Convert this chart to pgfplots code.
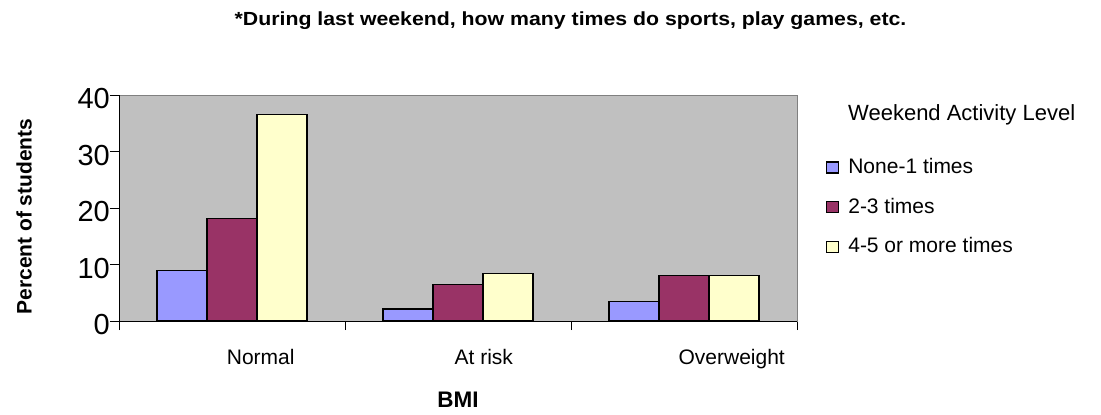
\documentclass[border=0pt]{standalone}
\usepackage{graphicx}
\usepackage{pgfplots}
\usepackage{pgfplotstable}
\pgfplotsset{compat=1.18}
\usepackage{fontspec}
\setmainfont{Liberation Sans}

\definecolor{barblue}{HTML}{9999FF}
\definecolor{barmaroon}{HTML}{993366}
\definecolor{baryellow}{HTML}{FFFFCC}
\definecolor{plotgray}{HTML}{C0C0C0}
\definecolor{framegray}{HTML}{808080}

\newcommand{\fs}[1]{\fontsize{#1bp}{#1bp}\selectfont}

% Percent of students by BMI group and weekend activity level
\pgfplotstableread{
idx none two four
0   8.9  18.1 36.5
1   2.1  6.4  8.4
2   3.5  8.1  8.1
}\bmidata

\begin{document}
\begin{tikzpicture}
\useasboundingbox (0,0) rectangle (1101bp,415bp);
\begin{axis}[
  at={(119bp,94bp)}, anchor=south west,
  width=678bp, height=226bp, scale only axis,
  xmin=-0.5, xmax=2.5, ymin=0, ymax=40,
  enlargelimits=false, clip=false,
  ybar=0pt, bar width=0.2212,
  axis background/.style={fill=plotgray},
  axis line style={draw=framegray, line width=1bp},
  tick align=outside, tick pos=left,
  xtick={-0.5,0.5,1.5,2.5}, xticklabels={},
  ytick={0,10,20,30,40},
  major tick length=9bp,
  tick style={black, line width=1bp},
  /pgf/number format/assume math mode=true,
  yticklabel style={font=\fs{29}, anchor=east, inner sep=0pt, yshift=-4bp},
  extra x ticks={0.127,1.114,2.211},
  extra x tick labels={Normal,At risk,Overweight},
  extra x tick style={major tick length=0pt,
    tick label style={font=\fs{21}, anchor=base, inner sep=0pt, yshift=-43bp}},
  legend style={at={(axis description cs:1.0428,0.719)}, anchor=north west,
    draw=none, fill=none, inner sep=0pt, outer sep=0pt, font=\fs{21},
    row sep=24.5bp,
    nodes={inner sep=0pt, text height=15bp, text depth=0pt},
    /tikz/every odd column/.append style={column sep=9bp}},
  legend cell align=left,
  swatch/.style={legend image code/.code={
    \draw[##1, draw=black, line width=1.3bp] (0bp,-7bp) rectangle (12bp,4bp);}},
]
\addplot[fill=barblue, draw=black, line width=1.3bp, swatch] table[x=idx,y=none]{\bmidata};
\addlegendentry{None-1 times}
\addplot[fill=barmaroon, draw=black, line width=1.3bp, swatch] table[x=idx,y=two]{\bmidata};
\addlegendentry{2-3 times}
\addplot[fill=baryellow, draw=black, line width=1.3bp, swatch] table[x=idx,y=four]{\bmidata};
\addlegendentry{4-5 or more times}

% axes drawn dark on the left and bottom
\draw[black, line width=1bp] (rel axis cs:0,1) -- (rel axis cs:0,0) -- (rel axis cs:1,0);

% titles and labels
\node[font=\bfseries\fs{19}, anchor=base, inner sep=0pt]
  at (axis description cs:0.666,1.3097)
  {\scalebox{1.12}[1]{*During last weekend, how many times do sports, play games, etc.}};
\node[font=\bfseries\fs{21}, rotate=90, anchor=base, inner sep=0pt]
  at (axis description cs:-0.1288,0.4624) {Percent of students};
\node[font=\bfseries\fs{22.5}, anchor=base, inner sep=0pt]
  at (axis description cs:0.5,-0.3836) {BMI};
\node[font=\fs{22}, anchor=base west, inner sep=0pt]
  at (axis description cs:1.0752,0.885) {Weekend Activity Level};
\end{axis}
\end{tikzpicture}
\end{document}
